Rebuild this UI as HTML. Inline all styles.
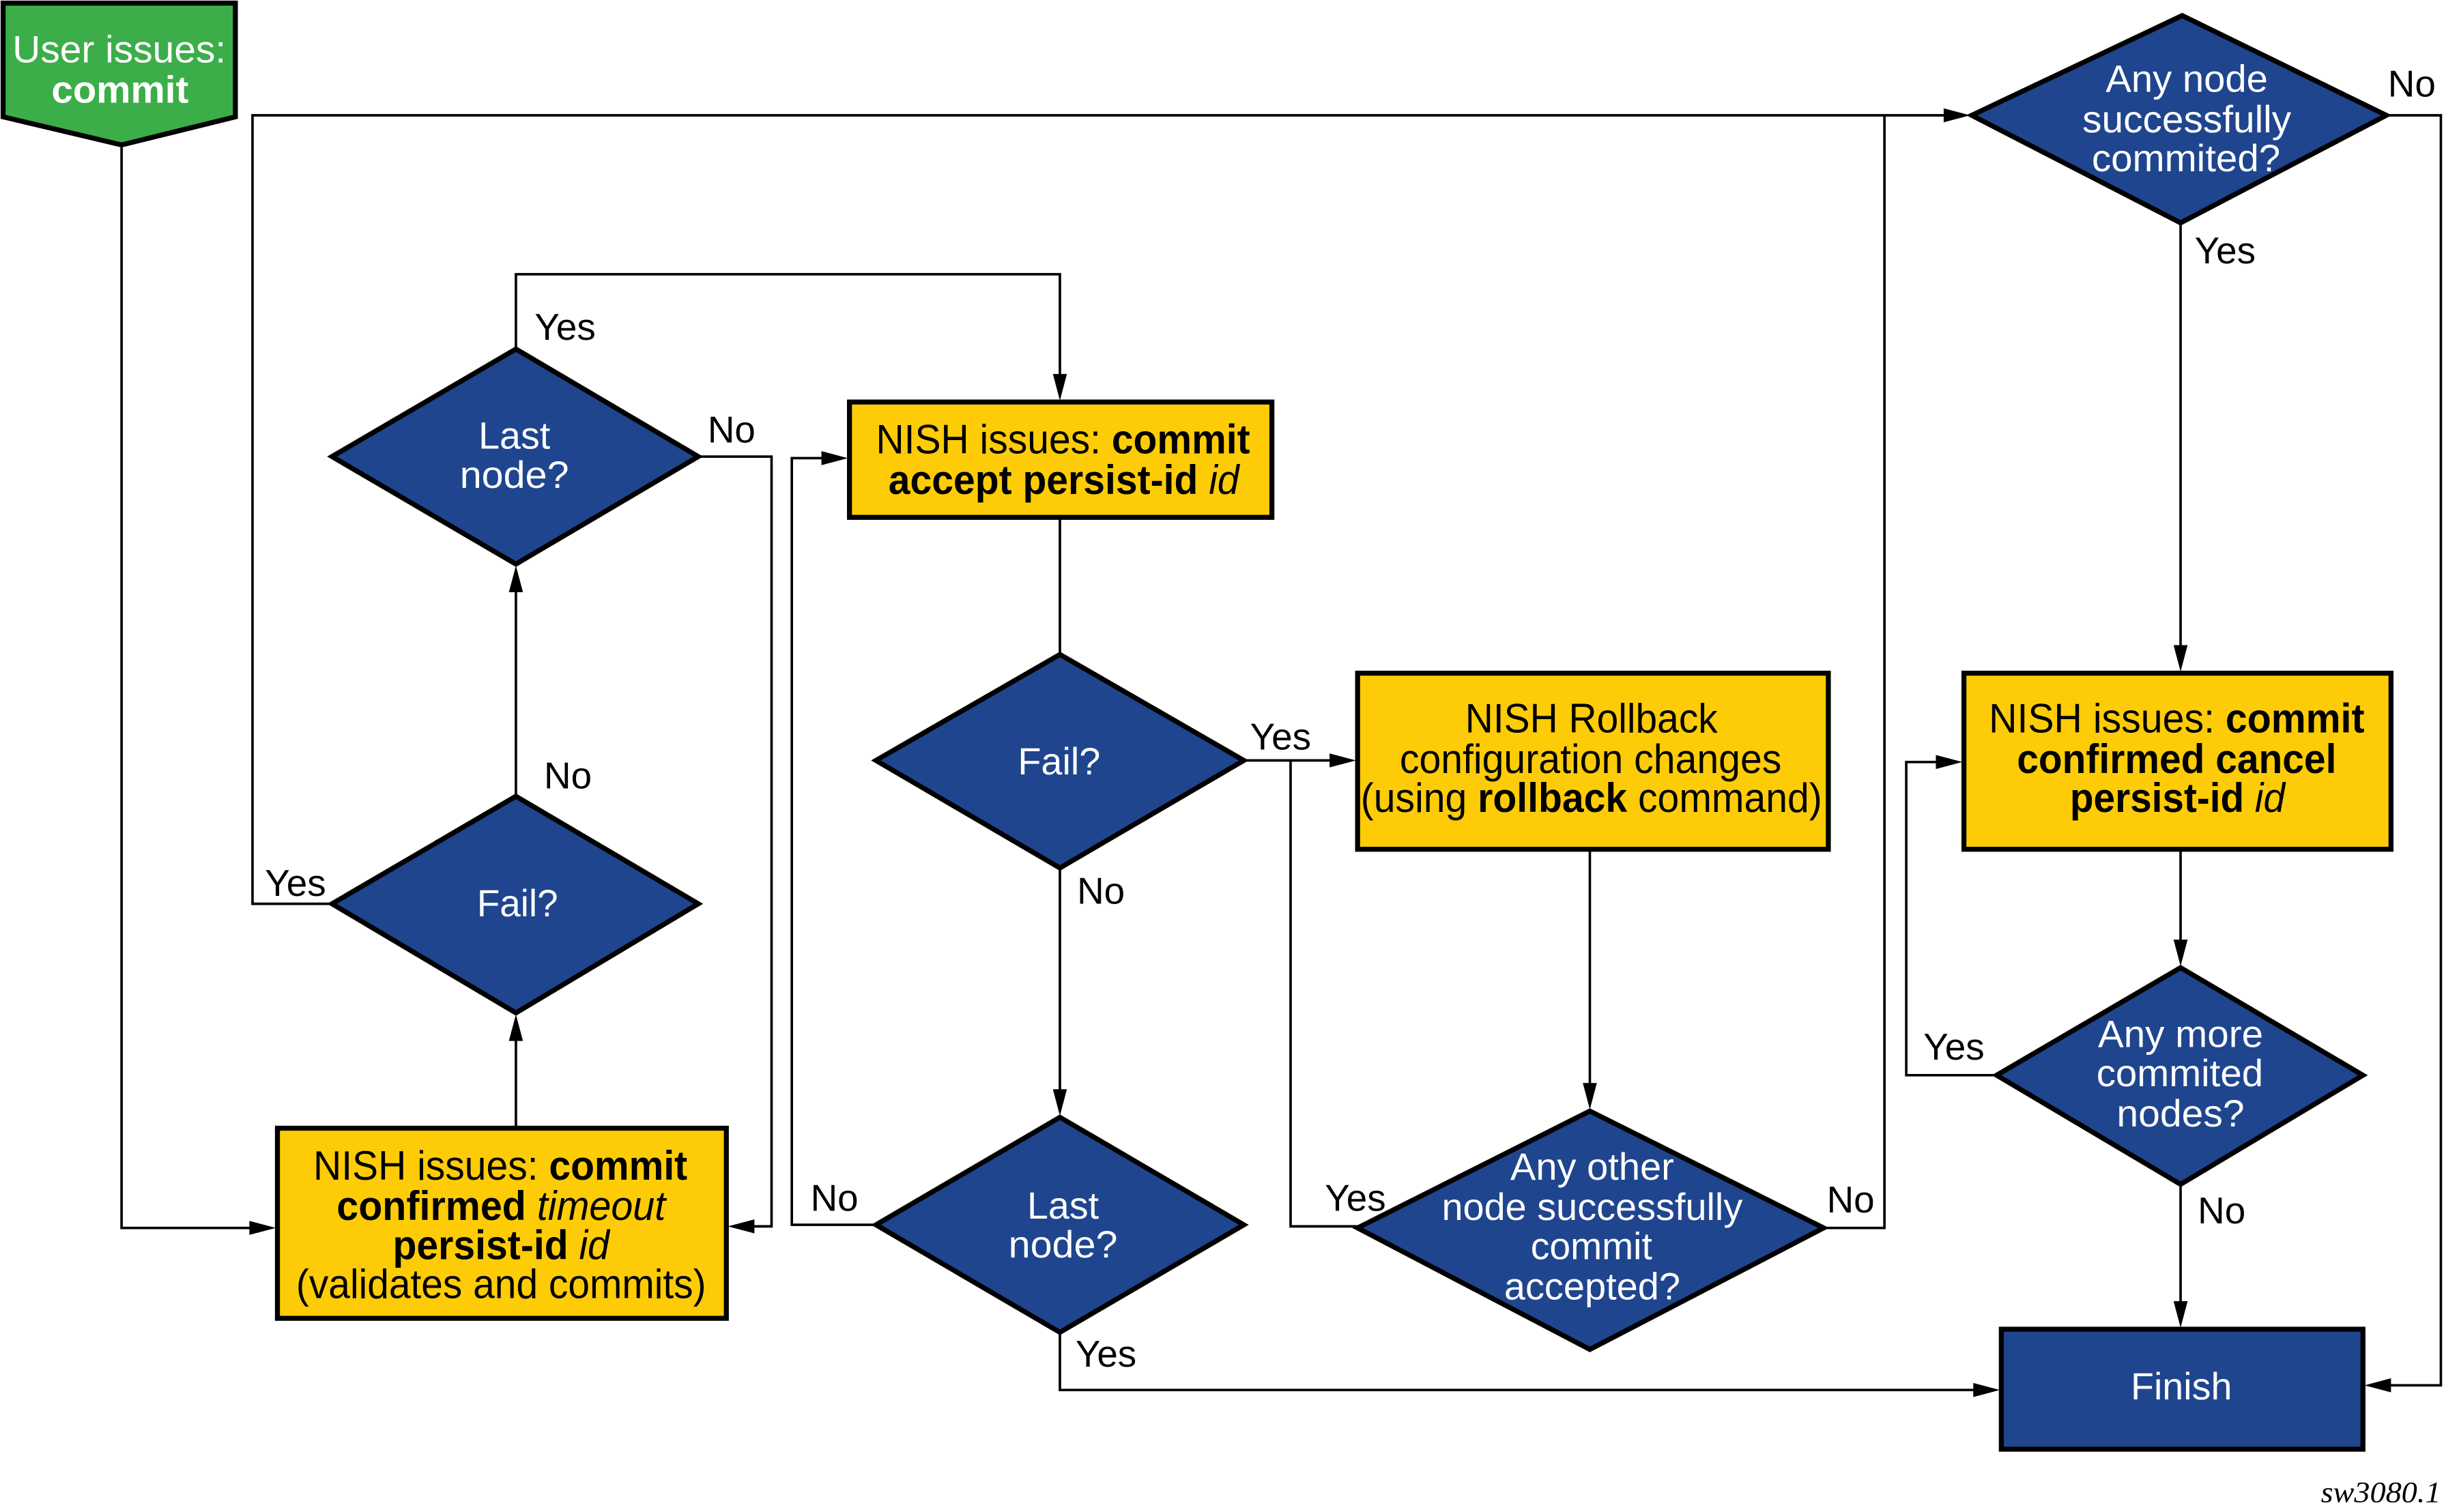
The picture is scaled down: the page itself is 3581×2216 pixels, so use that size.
<!DOCTYPE html>
<html><head><meta charset="utf-8">
<style>
html,body{margin:0;padding:0;background:#fff;}
svg{display:block;}
.w,.b,.l{font-family:"Liberation Sans",Arial,sans-serif;}
.w{fill:#fff;font-size:24.5px;text-anchor:middle;}
.b{fill:#000;font-size:26.5px;text-anchor:middle;}
.l{fill:#000;font-size:24px;}
.ln{fill:none;stroke:#000;stroke-width:1.6;}
.bx{fill:#FECC07;stroke:#000;stroke-width:3.2;}
.dm{fill:#1F458E;stroke:#000;stroke-width:3.2;stroke-linejoin:miter;}
.ar{fill:#000;}
.sw{font-family:"Liberation Serif","Times New Roman",serif;font-style:italic;font-size:19px;fill:#000;text-anchor:end;}
</style></head>
<body>
<svg width="3581" height="2216" viewBox="0 0 1568 970.3" preserveAspectRatio="none" xmlns="http://www.w3.org/2000/svg">
<rect x="0" y="0" width="1568" height="970.3" fill="#fff"/>

<!-- connectors -->
<path class="ln" d="M78,93 V788 H165"/>
<polygon class="ar" points="177,788 160,783.5 160,792.5"/>

<path class="ln" d="M331,724 V665"/>
<polygon class="ar" points="331,651 326.5,668 335.5,668"/>

<path class="ln" d="M331,511 V377"/>
<polygon class="ar" points="331,363 326.5,380 335.5,380"/>

<path class="ln" d="M331,224 V176 H680 V244"/>
<polygon class="ar" points="680,257 675.5,240 684.5,240"/>

<path class="ln" d="M448,293 H495 V787 H482"/>
<polygon class="ar" points="467,787 484,782.5 484,791.5"/>

<path class="ln" d="M213,580 H162 V74 H1250"/>
<polygon class="ar" points="1264,74 1247,69.5 1247,78.5"/>

<path class="ln" d="M680,332 V420"/>

<path class="ln" d="M798,488 H857"/>
<polygon class="ar" points="870,488 853,483.5 853,492.5"/>

<path class="ln" d="M828,488 V787 H871"/>

<path class="ln" d="M680,557 V703"/>
<polygon class="ar" points="680,716 675.5,699 684.5,699"/>

<path class="ln" d="M562,786 H508 V294 H531"/>
<polygon class="ar" points="544,294 527,289.5 527,298.5"/>

<path class="ln" d="M680,855 V892 H1270"/>
<polygon class="ar" points="1283,892 1266,887.5 1266,896.5"/>

<path class="ln" d="M1020,545 V699"/>
<polygon class="ar" points="1020,712 1015.5,695 1024.5,695"/>

<path class="ln" d="M1170,788 H1209 V74"/>

<path class="ln" d="M1531,74 H1566 V889 H1531"/>
<polygon class="ar" points="1517,889 1534,884.5 1534,893.5"/>

<path class="ln" d="M1399,143 V418"/>
<polygon class="ar" points="1399,431 1394.5,414 1403.5,414"/>

<path class="ln" d="M1399,545 V607"/>
<polygon class="ar" points="1399,620 1394.5,603 1403.5,603"/>

<path class="ln" d="M1281,690 H1223 V489 H1246"/>
<polygon class="ar" points="1259,489 1242,484.5 1242,493.5"/>

<path class="ln" d="M1399,760 V839"/>
<polygon class="ar" points="1399,852 1394.5,835 1403.5,835"/>

<!-- start -->
<polygon points="2,2 151,2 151,75 78,93 2,75" fill="#3BAE49" stroke="#000" stroke-width="3.2"/>
<text class="w" x="76.5" y="40" textLength="137" lengthAdjust="spacingAndGlyphs">User issues:</text>
<text class="w" x="77" y="66" font-weight="bold" textLength="88" lengthAdjust="spacingAndGlyphs">commit</text>

<!-- boxes -->
<rect class="bx" x="178" y="724" width="288" height="122"/>
<text class="b" x="321" y="757" textLength="240" lengthAdjust="spacingAndGlyphs">NISH issues: <tspan font-weight="bold">commit</tspan></text>
<text class="b" x="321.5" y="783" textLength="211" lengthAdjust="spacingAndGlyphs"><tspan font-weight="bold">confirmed</tspan> <tspan font-style="italic">timeout</tspan></text>
<text class="b" x="321.5" y="808" textLength="139" lengthAdjust="spacingAndGlyphs"><tspan font-weight="bold">persist-id</tspan> <tspan font-style="italic">id</tspan></text>
<text class="b" x="321.5" y="833" textLength="263" lengthAdjust="spacingAndGlyphs">(validates and commits)</text>

<rect class="bx" x="545" y="258" width="271" height="74"/>
<text class="b" x="682" y="291" textLength="240" lengthAdjust="spacingAndGlyphs">NISH issues: <tspan font-weight="bold">commit</tspan></text>
<text class="b" x="682.5" y="317" textLength="225" lengthAdjust="spacingAndGlyphs"><tspan font-weight="bold">accept persist-id</tspan> <tspan font-style="italic">id</tspan></text>

<rect class="bx" x="871" y="432" width="302" height="113"/>
<text class="b" x="1021" y="470" textLength="162" lengthAdjust="spacingAndGlyphs">NISH Rollback</text>
<text class="b" x="1020.5" y="496" textLength="245" lengthAdjust="spacingAndGlyphs">configuration changes</text>
<text class="b" x="1021" y="521" textLength="296" lengthAdjust="spacingAndGlyphs">(using <tspan font-weight="bold">rollback</tspan> command)</text>

<rect class="bx" x="1260" y="432" width="274" height="113"/>
<text class="b" x="1396.5" y="470" textLength="241" lengthAdjust="spacingAndGlyphs">NISH issues: <tspan font-weight="bold">commit</tspan></text>
<text class="b" x="1396.5" y="496" textLength="205" lengthAdjust="spacingAndGlyphs" font-weight="bold">confirmed cancel</text>
<text class="b" x="1397" y="521" textLength="138" lengthAdjust="spacingAndGlyphs"><tspan font-weight="bold">persist-id</tspan> <tspan font-style="italic">id</tspan></text>

<rect x="1284" y="853" width="232" height="77" fill="#1F458E" stroke="#000" stroke-width="3.2"/>
<text class="w" x="1399.5" y="898" textLength="65" lengthAdjust="spacingAndGlyphs">Finish</text>

<!-- diamonds -->
<polygon class="dm" points="331,224 448,293 331,362 213,293"/>
<text class="w" x="330" y="288" textLength="46" lengthAdjust="spacingAndGlyphs">Last</text>
<text class="w" x="330" y="313" textLength="70" lengthAdjust="spacingAndGlyphs">node?</text>

<polygon class="dm" points="331,511 448,580 331,650 213,580"/>
<text class="w" x="332" y="588" textLength="52" lengthAdjust="spacingAndGlyphs">Fail?</text>

<polygon class="dm" points="680,420 798,488 680,557 562,488"/>
<text class="w" x="679.5" y="497" textLength="53" lengthAdjust="spacingAndGlyphs">Fail?</text>

<polygon class="dm" points="680,717 798,786 680,855 562,786"/>
<text class="w" x="682" y="782" textLength="46" lengthAdjust="spacingAndGlyphs">Last</text>
<text class="w" x="682" y="807" textLength="70" lengthAdjust="spacingAndGlyphs">node?</text>

<polygon class="dm" points="1020,713 1170,788 1020,866 871,788"/>
<text class="w" x="1021.5" y="757" textLength="105" lengthAdjust="spacingAndGlyphs">Any other</text>
<text class="w" x="1021.5" y="783" textLength="193" lengthAdjust="spacingAndGlyphs">node successfully</text>
<text class="w" x="1021" y="808" textLength="78" lengthAdjust="spacingAndGlyphs">commit</text>
<text class="w" x="1021.5" y="834" textLength="113" lengthAdjust="spacingAndGlyphs">accepted?</text>

<polygon class="dm" points="1400,10 1531,74 1399,143 1265,74"/>
<text class="w" x="1403" y="59" textLength="104" lengthAdjust="spacingAndGlyphs">Any node</text>
<text class="w" x="1403" y="85" textLength="134" lengthAdjust="spacingAndGlyphs">successfully</text>
<text class="w" x="1402.5" y="110" textLength="121" lengthAdjust="spacingAndGlyphs">commited?</text>

<polygon class="dm" points="1399,621 1516,690 1399,760 1281,690"/>
<text class="w" x="1399" y="672" textLength="106" lengthAdjust="spacingAndGlyphs">Any more</text>
<text class="w" x="1398.5" y="697" textLength="107" lengthAdjust="spacingAndGlyphs">commited</text>
<text class="w" x="1399" y="723" textLength="82" lengthAdjust="spacingAndGlyphs">nodes?</text>

<!-- labels -->
<text class="l" x="343" y="218">Yes</text>
<text class="l" x="454" y="284">No</text>
<text class="l" x="349" y="506">No</text>
<text class="l" x="170" y="575">Yes</text>
<text class="l" x="802" y="481">Yes</text>
<text class="l" x="691" y="580">No</text>
<text class="l" x="520" y="777">No</text>
<text class="l" x="690" y="877">Yes</text>
<text class="l" x="850" y="777">Yes</text>
<text class="l" x="1172" y="778">No</text>
<text class="l" x="1532" y="62">No</text>
<text class="l" x="1408" y="169">Yes</text>
<text class="l" x="1234" y="680">Yes</text>
<text class="l" x="1410" y="785">No</text>

<text class="sw" x="1566" y="964" textLength="77" lengthAdjust="spacingAndGlyphs">sw3080.1</text>
</svg>
</body></html>
